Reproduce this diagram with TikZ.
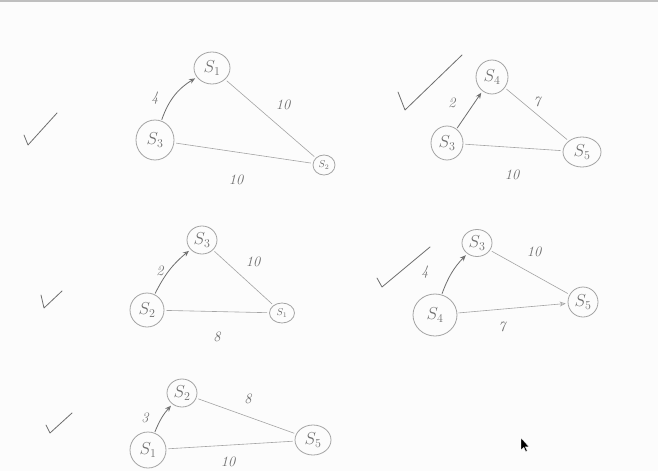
\documentclass[tikz,border=0pt]{standalone}
\usetikzlibrary{shapes.geometric,arrows.meta}
\definecolor{pencil}{HTML}{6E6E6E}
\definecolor{pencilL}{HTML}{A4A4A4}
\definecolor{paper}{HTML}{FCFCFC}
\tikzset{
  st/.style={ellipse, draw=pencilL, line width=0.8pt, inner sep=0pt, text=pencil, font=\LARGE},
  wt/.style={text=pencil, font=\Large\itshape},
  ln/.style={draw=pencilL, line width=0.6pt, shorten <=2pt, shorten >=2pt},
  arr/.style={draw=pencil, line width=0.8pt, shorten <=1pt, shorten >=2pt, -{Stealth[open,length=6pt,width=5pt]}},
  chk/.style={draw=pencil, line width=0.8pt, line join=round, line cap=round},
}
\begin{document}
\begin{tikzpicture}[x=1pt,y=-1pt]
\useasboundingbox (0,0) rectangle (658,471);
\clip (0,0) rectangle (658,471);
\fill[paper] (0,0) rectangle (658,471);
\draw[gray!50, line width=1.2pt] (0,1) -- (658,1);

% graph 1
\node[st, minimum width=36pt, minimum height=32pt] (a1) at (212,68) {$S_1$};
\node[st, minimum width=38pt, minimum height=40pt] (a3) at (155,140) {$S_3$};
\node[st, minimum width=22pt, minimum height=20pt, font=\normalsize] (a2) at (324,165) {$S_2$};
\draw[arr] (a3) to[bend left=20] (a1);
\draw[ln] (a1) -- (a2);
\draw[ln] (a3) -- (a2);
\node[wt] (wa1) at (155,98) {4};
\node[wt] (wa2) at (283,105) {10};
\node[wt] (wa3) at (236,180) {10};
\draw[chk] (24,135) -- (28,145) -- (57,113);

% graph 2
\node[st, minimum width=32pt, minimum height=34pt] (b4) at (492,77) {$S_4$};
\node[st, minimum width=32pt, minimum height=34pt] (b3) at (447,143) {$S_3$};
\node[st, minimum width=38pt, minimum height=30pt] (b5) at (582,152) {$S_5$};
\draw[arr] (b3) -- (b4);
\draw[ln] (b4) -- (b5);
\draw[ln] (b3) -- (b5);
\node[wt] (wb1) at (452,103) {2};
\node[wt] (wb2) at (537,102) {7};
\node[wt] (wb3) at (512,175) {10};
\draw[chk] (398,92) -- (405,110) -- (462,55);

% graph 3
\node[st, minimum width=30pt, minimum height=28pt] (c3) at (202,240) {$S_3$};
\node[st, minimum width=34pt, minimum height=34pt] (c2) at (147,310) {$S_2$};
\node[st, minimum width=25pt, minimum height=20pt, font=\normalsize] (c1) at (282,313) {$S_1$};
\draw[arr] (c2) to[bend left=12] (c3);
\draw[ln] (c3) -- (c1);
\draw[ln] (c2) -- (c1);
\node[wt] (wc1) at (160,271) {2};
\node[wt] (wc2) at (253,262) {10};
\node[wt] (wc3) at (217,337) {8};
\draw[chk] (41,295) -- (44,308) -- (62,291);

% graph 4
\node[st, minimum width=30pt, minimum height=27pt] (d3) at (477,243) {$S_3$};
\node[st, minimum width=44pt, minimum height=42pt] (d4) at (435,315) {$S_4$};
\node[st, minimum width=30pt, minimum height=30pt] (d5) at (583,302) {$S_5$};
\draw[arr] (d4) to[bend left=12] (d3);
\draw[ln] (d3) -- (d5);
\draw[arr, draw=pencilL, line width=0.6pt] (d4) -- (d5);
\node[wt] (wd1) at (425,272) {4};
\node[wt] (wd2) at (534,252) {10};
\node[wt] (wd3) at (502,327) {7};
\draw[chk] (377,278) -- (382,287) -- (430,247);

% graph 5
\node[st, minimum width=30pt, minimum height=28pt] (e2) at (182,393) {$S_2$};
\node[st, minimum width=36pt, minimum height=36pt] (e1) at (148,450) {$S_1$};
\node[st, minimum width=36pt, minimum height=30pt] (e5) at (313,440) {$S_5$};
\draw[arr] (e1) to[bend left=10] (e2);
\draw[ln] (e2) -- (e5);
\draw[ln] (e1) -- (e5);
\node[wt] (we1) at (145,418) {3};
\node[wt] (we2) at (248,399) {8};
\node[wt] (we3) at (228,462) {10};
\draw[chk] (46,425) -- (50,433) -- (72,413);

% mouse pointer
\fill[black, draw=white, line width=0.3pt] (521,438) -- (521,450) -- (523.8,447.4) -- (525.8,451.5) -- (527.2,450.9) -- (525.3,446.8) -- (529,446.8) -- cycle;
\end{tikzpicture}
\end{document}
